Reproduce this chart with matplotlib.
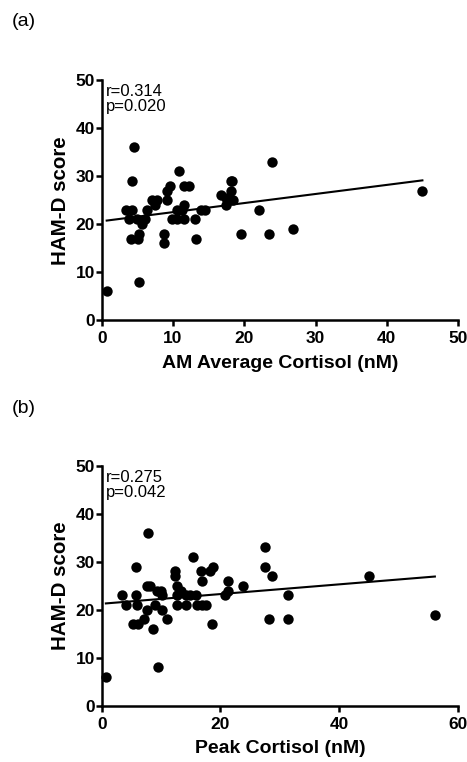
import numpy as np
import matplotlib
matplotlib.use("Agg")
import matplotlib.pyplot as plt

plt.rcParams['font.family'] = ['Liberation Sans', 'DejaVu Sans']

# (a) AM average cortisol vs HAM-D
am_cortisol = [0.7, 4.6, 4.3, 5.3, 10.9, 23.9, 3.4, 4.2, 3.8, 4.1, 5.1, 5.2,
               4.9, 5.6, 6.1, 6.4, 7.0, 7.7, 7.5, 8.7, 8.7, 9.2, 9.1, 9.6,
               9.9, 10.6, 10.6, 11.5, 12.2, 11.6, 11.6, 11.3, 13.1, 13.3, 14.0,
               14.5, 16.8, 17.4, 18.1, 18.3, 18.1, 18.4, 17.5, 19.5, 22.1, 23.5,
               26.8, 45.0]
am_hamd = [6, 36, 29, 8, 31, 33, 23, 23, 21, 17, 17, 18,
           21, 20, 21, 23, 25, 25, 24, 18, 16, 25, 27, 28,
           21, 23, 21, 28, 28, 24, 21, 23, 21, 17, 23,
           23, 26, 24, 29, 29, 27, 25, 25.5, 18, 23, 18,
           19, 27]

# (b) Peak cortisol vs HAM-D
peak_cortisol = [0.7, 7.8, 15.3, 5.7, 9.4, 27.5, 27.5, 28.6, 28.2, 31.4, 31.4,
                 23.8, 21.3, 21.3, 20.7, 18.6, 18.7, 18.3, 16.8, 16.9, 3.4,
                 4.1, 5.7, 6.0, 5.2, 6.1, 7.2, 7.7, 7.6, 8.2, 8.6, 9.0, 9.3,
                 9.9, 10.1, 10.1, 11.0, 12.4, 12.4, 12.6, 12.6, 12.6, 13.4,
                 14.2, 14.2, 14.9, 15.8, 16.1, 16.9, 17.5, 45.0, 56.1]
peak_hamd = [6, 36, 31, 29, 8, 33, 29, 27, 18, 18, 23,
             25, 26, 24, 23, 17, 29, 28, 28, 26, 23,
             21, 23, 21, 17, 17, 18, 20, 25, 25, 16, 21, 24,
             24, 23, 20, 18, 28, 27, 25, 23, 21, 24,
             23, 21, 23, 23, 21, 21, 21, 27, 19]

stats_a = "r=0.314\np=0.020"
stats_b = "r=0.275\np=0.042"

fig = plt.figure(figsize=(4.67, 7.62), dpi=100)

def panel(rect, x, y, xmax, xticks, xlabel, stats, tag, tag_y):
    ax = fig.add_axes(rect)
    ax.scatter(x, y, s=56, color='black', zorder=3, linewidths=0, clip_on=False)
    xa = np.asarray(x, float)
    ya = np.asarray(y, float)
    m, b = np.polyfit(xa, ya, 1)
    xs = np.array([xa.min(), xa.max()])
    ax.plot(xs, m * xs + b, color='black', lw=1.5, zorder=2)
    ax.set_xlim(0, xmax)
    ax.set_ylim(0, 50)
    ax.set_xticks(xticks)
    ax.set_yticks([0, 10, 20, 30, 40, 50])
    for s in ['top', 'right']:
        ax.spines[s].set_visible(False)
    for s in ['left', 'bottom']:
        ax.spines[s].set_linewidth(1.8)
    ax.tick_params(direction='out', length=4, width=1.8, labelsize=12.5)
    ax.tick_params(axis='x', pad=4)
    ax.tick_params(axis='y', pad=1)
    for lab in ax.get_xticklabels() + ax.get_yticklabels():
        lab.set_fontweight('bold')
    ax.set_xlabel(xlabel, fontsize=14, fontweight='bold', labelpad=6)
    ax.set_ylabel('HAM-D score', fontsize=14.8, fontweight='bold', labelpad=4)
    ax.text(0.012, 0.985, stats, transform=ax.transAxes, ha='left', va='top',
            fontsize=12, linespacing=1.0)
    fig.text(12 / 467, 1 - tag_y / 762, tag, fontsize=14, ha='left', va='center')
    return ax

panel([0.2178, 0.5797, 0.763, 0.315], am_cortisol, am_hamd, 50,
      [0, 10, 20, 30, 40, 50], 'AM Average Cortisol (nM)', stats_a, '(a)', 21)
panel([0.2178, 0.0739, 0.763, 0.3146], peak_cortisol, peak_hamd, 60,
      [0, 20, 40, 60], 'Peak Cortisol (nM)', stats_b, '(b)', 408)

fig.savefig('out.png', dpi=100)
